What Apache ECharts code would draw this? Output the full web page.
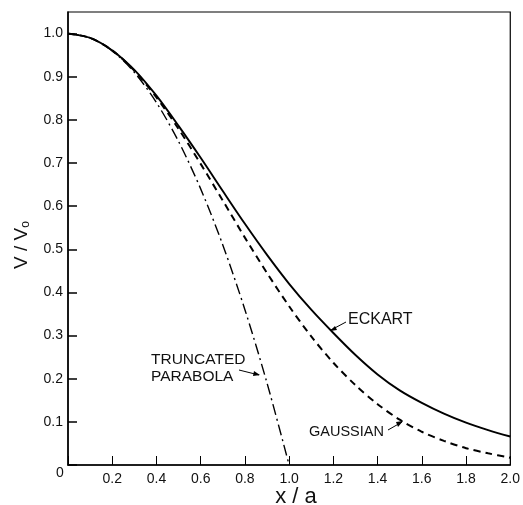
<!DOCTYPE html>
<html>
<head>
<meta charset="utf-8">
<script src="https://cdn.jsdelivr.net/npm/echarts@6/dist/echarts.min.js"></script>
<style>html,body{margin:0;padding:0;background:#fff}#c{width:523px;height:505px}</style>
</head>
<body>
<div id="c"></div>
<script>
var xValues = [0,0.1,0.2,0.3,0.4,0.5,0.6,0.7,0.8,0.9,1.0,1.1,1.2,1.3,1.4,1.5,1.6,1.7,1.8,1.9,2.0];
var eckart = [1.0,0.990,0.961,0.916,0.856,0.786,0.712,0.635,0.559,0.487,0.420,0.360,0.306,0.255,0.210,0.173,0.144,0.119,0.098,0.081,0.066];
var gaussian = [1.0,0.990,0.961,0.914,0.852,0.779,0.698,0.613,0.527,0.445,0.368,0.298,0.237,0.185,0.141,0.105,0.077,0.056,0.039,0.027,0.017];
var parabolaX = [0,0.1,0.2,0.3,0.4,0.5,0.6,0.7,0.8,0.9,1.0];
var parabola = [1.0,0.99,0.96,0.91,0.84,0.75,0.64,0.51,0.36,0.19,0.0];
var xTicks = [0.2,0.4,0.6,0.8,1.0,1.2,1.4,1.6,1.8,2.0];
var yTicks = [0.1,0.2,0.3,0.4,0.5,0.6,0.7,0.8,0.9,1.0];

function pairs(xs, ys){ return xs.map(function(x,i){return [x, ys[i]];}); }
var font = 'Liberation Sans, Arial, sans-serif';
var chart = echarts.init(document.getElementById('c'), null, {renderer:'canvas'});
chart.setOption({
  animation:false,
  backgroundColor:'#fff',
  grid:{left:68,right:11,top:12,bottom:40,show:true,borderColor:'#000',borderWidth:1.2,backgroundColor:'transparent'},
  xAxis:{type:'value',min:0,max:2.0,interval:0.2,
    axisLine:{lineStyle:{color:'#000',width:1.5}},
    axisTick:{inside:true,length:9,lineStyle:{color:'#000',width:1}},
    splitLine:{show:false},
    axisLabel:{color:'#111',fontFamily:font,fontSize:14,margin:7,
      formatter:function(v){ var ok = xTicks.some(function(t){return Math.abs(t-v)<1e-6;}); return ok? v.toFixed(1):''; }}
  },
  yAxis:{type:'value',min:0,max:1.05,interval:0.1,
    axisLine:{lineStyle:{color:'#000',width:1.5}},
    axisTick:{inside:true,length:9,lineStyle:{color:'#000',width:1.5}},
    splitLine:{show:false},
    axisLabel:{color:'#111',fontFamily:font,fontSize:14,margin:5,showMaxLabel:false,
      formatter:function(v){ var ok = yTicks.some(function(t){return Math.abs(t-v)<1e-6;}); return ok? v.toFixed(1):''; }}
  },
  series:[
    {type:'line',name:'ECKART',data:pairs(xValues,eckart),smooth:0.3,symbol:'none',
      lineStyle:{color:'#000',width:1.9,type:'solid'}},
    {type:'line',name:'GAUSSIAN',data:pairs(xValues,gaussian),smooth:0.3,symbol:'none',
      lineStyle:{color:'#000',width:2,type:[7,5]}},
    {type:'line',name:'TRUNCATED PARABOLA',data:pairs(parabolaX,parabola),smooth:0.3,symbol:'none',
      lineStyle:{color:'#000',width:1.4,type:[11,4,2,4]}}
  ],
  graphic:[
    {type:'text',left:56,top:466,style:{text:'0',font:'14px '+font,fill:'#111'}},
    {type:'text',x:296,y:497,style:{text:'x / a',font:'22px '+font,fill:'#111',align:'center',verticalAlign:'middle'}},
    {type:'text',x:22,y:245,rotation:Math.PI/2,style:{
      text:'V / V{s|o}',font:'19px '+font,fill:'#111',align:'center',verticalAlign:'middle',
      rich:{s:{fontSize:12,fontFamily:font,fill:'#111',verticalAlign:'bottom',padding:[8,0,0,0]}}}},
    {type:'text',x:348,y:320,style:{text:'ECKART',font:'16px '+font,fill:'#111',verticalAlign:'middle'}},
    {type:'line',shape:{x1:346,y1:322,x2:331,y2:330},style:{stroke:'#000',lineWidth:1}},
    {type:'polygon',shape:{points:[[330,331],[335,326],[337,330]]},style:{fill:'#000'}},
    {type:'text',x:151,y:360,style:{text:'TRUNCATED',font:'15.5px '+font,fill:'#111',verticalAlign:'middle'}},
    {type:'text',x:151,y:377,style:{text:'PARABOLA',font:'15.5px '+font,fill:'#111',verticalAlign:'middle'}},
    {type:'line',shape:{x1:239,y1:370,x2:259,y2:375},style:{stroke:'#000',lineWidth:1}},
    {type:'polygon',shape:{points:[[260,375],[254,371],[253,376]]},style:{fill:'#000'}},
    {type:'text',x:309,y:432,style:{text:'GAUSSIAN',font:'14.5px '+font,fill:'#111',verticalAlign:'middle'}},
    {type:'line',shape:{x1:388,y1:430,x2:402,y2:422},style:{stroke:'#000',lineWidth:1}},
    {type:'polygon',shape:{points:[[403,421],[396,422],[398,427]]},style:{fill:'#000'}}
  ]
});
</script>
</body>
</html>
